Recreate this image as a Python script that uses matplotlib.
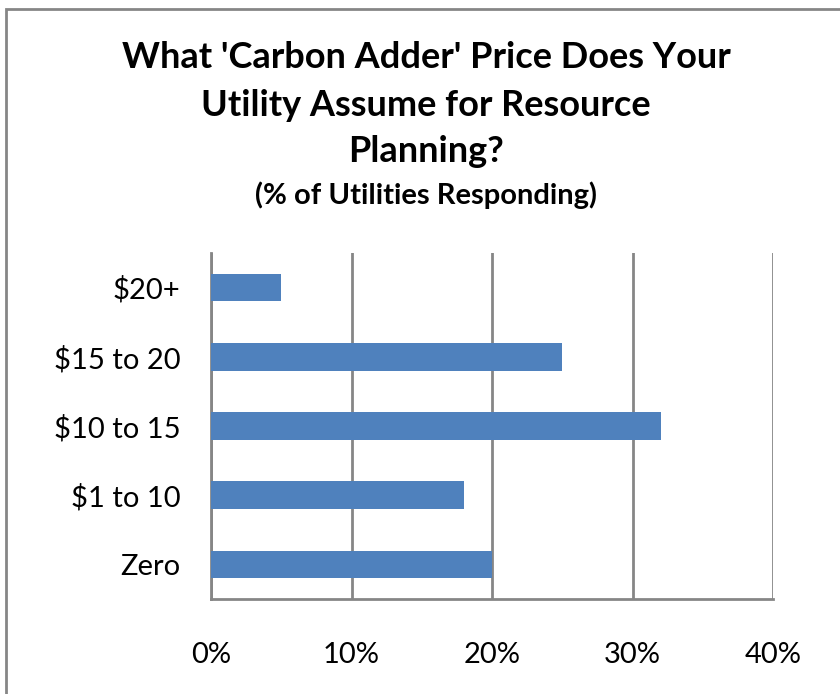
import numpy as np
import matplotlib.pyplot as plt
from matplotlib.patches import Rectangle

# datos del gráfico
categorias = ['Zero', '$1 to 10', '$10 to 15', '$15 to 20', '$20+']
valores = [20, 18, 32, 25, 5]
ticks_x = [0, 10, 20, 30, 40]
etiquetas_x = ['0%', '10%', '20%', '30%', '40%']

plt.rcParams['font.family'] = ['Lato', 'DejaVu Sans']

fig = plt.figure(figsize=(8.4, 6.94), dpi=100)
ax = fig.add_axes([211 / 840, 95 / 694, 562 / 840, 346 / 694])

y = np.arange(len(categorias))
ax.barh(y, valores, height=0.4, color='#4F81BD', zorder=3)

ax.set_xlim(0, 40)
ax.set_ylim(-0.5, len(categorias) - 0.5)
ax.set_xticks(ticks_x)
ax.set_xticklabels(etiquetas_x, fontsize=21)
ax.set_yticks(y)
ax.set_yticklabels(categorias, fontsize=21)
ax.tick_params(axis='x', length=0, pad=31)
ax.tick_params(axis='y', length=0, pad=22)

ax.grid(axis='x', color='#868686', linewidth=2, zorder=0)
for s in ['top', 'right']:
    ax.spines[s].set_visible(False)
for s in ['left', 'bottom']:
    ax.spines[s].set_color('#868686')
    ax.spines[s].set_linewidth(2)

# títulos
fig.text(426 / 840, 1 - 58 / 694, "What 'Carbon Adder' Price Does Your",
         ha='center', va='center', fontsize=26, fontweight='bold')
fig.text(426 / 840, 1 - 105 / 694, "Utility Assume for Resource",
         ha='center', va='center', fontsize=26, fontweight='bold')
fig.text(426 / 840, 1 - 152 / 694, "Planning?",
         ha='center', va='center', fontsize=26, fontweight='bold')
fig.text(426 / 840, 1 - 195 / 694, "(% of Utilities Responding)",
         ha='center', va='center', fontsize=21, fontweight='bold')

# marco del gráfico
fig.patches.append(Rectangle((6 / 840, -0.1), 1.0, 1.1 - 9 / 694,
                             transform=fig.transFigure, fill=False,
                             edgecolor='#868686', linewidth=2))

fig.savefig('out.png', dpi=100)
